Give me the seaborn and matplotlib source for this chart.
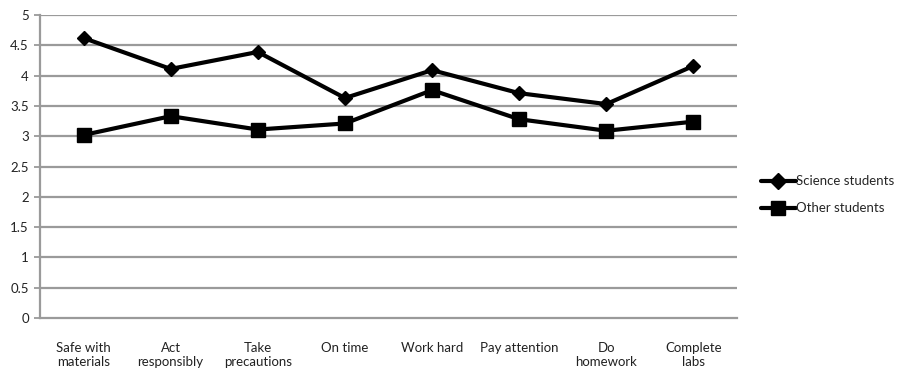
import matplotlib
matplotlib.use("Agg")
import matplotlib.pyplot as plt
import numpy as np
import pandas as pd
import seaborn as sns

categories = ["Safe with\nmaterials", "Act\nresponsibly", "Take\nprecautions", "On time",
              "Work hard", "Pay attention", "Do\nhomework", "Complete\nlabs"]
science = [4.62, 4.11, 4.39, 3.63, 4.09, 3.71, 3.53, 4.16]
other = [3.02, 3.33, 3.11, 3.21, 3.76, 3.28, 3.09, 3.24]
series_names = ["Science students", "Other students"]
y_ticks = [0, 0.5, 1, 1.5, 2, 2.5, 3, 3.5, 4, 4.5, 5]
y_labels = ["0", "0.5", "1", "1.5", "2", "2.5", "3", "3.5", "4", "4.5", "5"]

df = pd.DataFrame({
    "pos": list(range(len(categories))) * 2,
    "value": science + other,
    "group": [series_names[0]] * len(science) + [series_names[1]] * len(other),
})

sns.set_theme(style="white")
plt.rcParams["font.family"] = ["Lato", "DejaVu Sans"]

fig = plt.figure(figsize=(9.05, 3.70), dpi=100)
ax = fig.add_axes([40 / 905, 1 - 318 / 370, 697 / 905, 303 / 370])

grid_color = "#9a9a9a"
text_color = "#222222"
for yv in y_ticks[1:]:
    ax.axhline(yv, color=grid_color, lw=1.6, zorder=0)

sns.lineplot(data=df, x="pos", y="value", hue="group", style="group",
             markers={series_names[0]: "D", series_names[1]: "s"},
             dashes=False, palette={series_names[0]: "black", series_names[1]: "black"},
             markersize=9, linewidth=3, ax=ax, legend=False, zorder=3)
for line in ax.lines[-2:]:
    line.set_markeredgecolor("black")
    line.set_markerfacecolor("black")
    line.set_markeredgewidth(1)
    if line.get_marker() == "D":
        line.set_markersize(7)
    else:
        line.set_markersize(10)

ax.set_xlim(-0.5, len(categories) - 0.5)
ax.set_ylim(0, 5)
ax.set_xlabel("")
ax.set_ylabel("")

fs = 9.5
ax.set_xticks(range(len(categories)))
ax.set_xticklabels(categories, fontsize=fs, color=text_color, linespacing=1.25)
ax.set_xticks(np.arange(-0.5, len(categories), 1.0), minor=True)
ax.tick_params(axis="x", which="major", length=0, pad=17)
ax.tick_params(axis="x", which="minor", length=4, width=1.3, color=grid_color, direction="out")
ax.set_yticks(y_ticks)
ax.set_yticklabels(y_labels, fontsize=fs, color=text_color)
ax.tick_params(axis="y", length=4, width=1.3, color=grid_color, direction="out", pad=4, left=True)

for side in ["top", "right"]:
    ax.spines[side].set_visible(False)
for side in ["left", "bottom"]:
    ax.spines[side].set_color(grid_color)
    ax.spines[side].set_linewidth(1.6)

handles = [
    plt.Line2D([], [], color="black", lw=3, marker="D", markersize=8, markeredgecolor="black"),
    plt.Line2D([], [], color="black", lw=3, marker="s", markersize=10, markeredgecolor="black"),
]
fig.legend(handles, series_names, loc="upper left", bbox_to_anchor=(756 / 905, 1 - 170 / 370),
           frameon=False, fontsize=fs, handlelength=2.6, handletextpad=0.05,
           labelspacing=1.15, borderaxespad=0)

fig.savefig("out.png", dpi=100, facecolor="white")
